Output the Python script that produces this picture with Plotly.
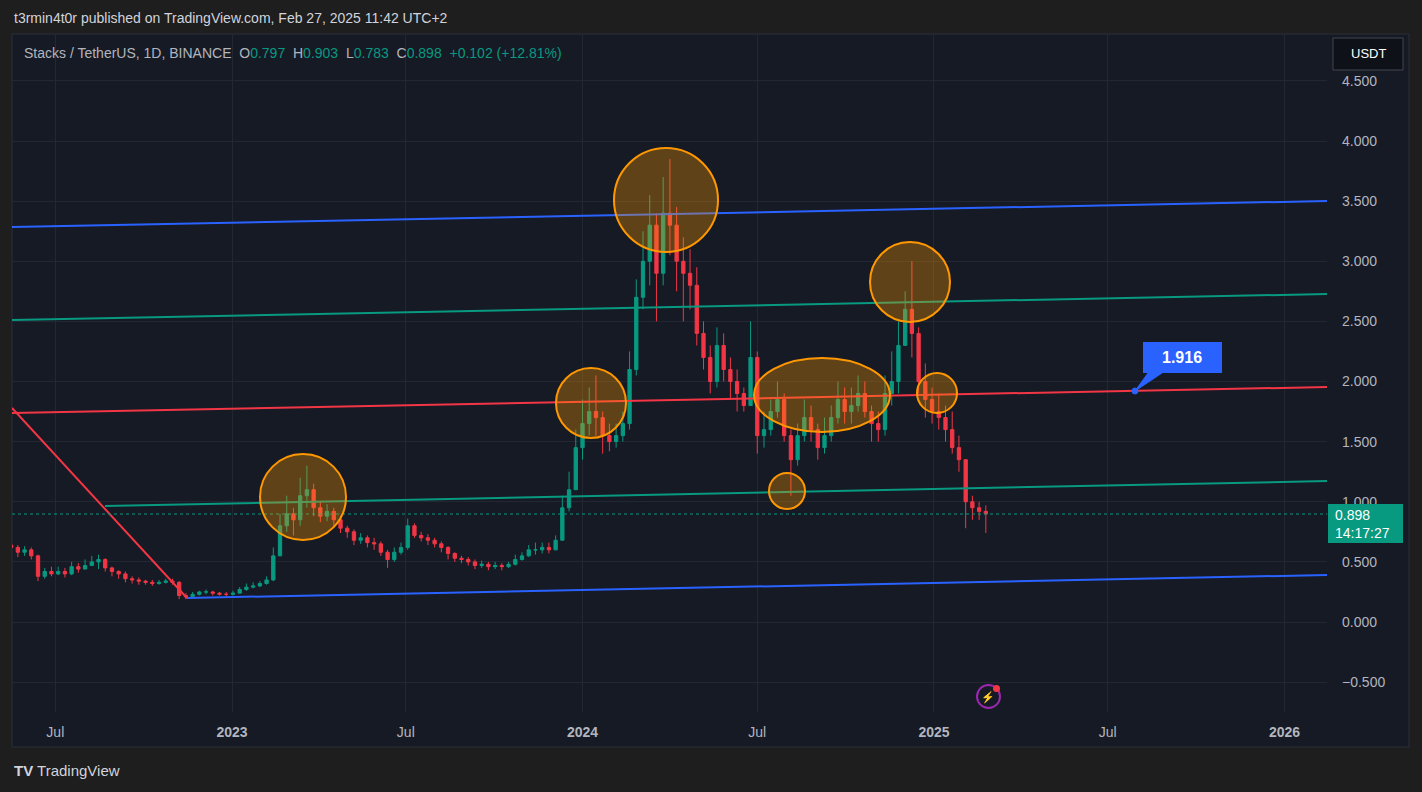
import pandas as pd
import plotly.graph_objects as go

# Weekly candles, weeks starting 2022-05-16
closes = [0.62,0.58,0.60,
 0.55,0.38,0.42,0.40, 0.42,0.40,0.46,0.44, 0.47,0.50,0.52,0.45,0.42, 0.40,0.36,0.35,0.34,
 0.33,0.32,0.33,0.34,0.33, 0.22,0.21,0.23,0.25, 0.25,0.24,0.23,0.23,
 0.24,0.27,0.29,0.30,0.32, 0.35,0.55,0.80,0.90, 0.85,1.05,1.10,0.95, 0.88,0.92,0.85,0.78,
 0.75,0.68,0.70,0.66,0.65, 0.58,0.52,0.58,0.62, 0.80,0.72,0.70,0.68,0.65, 0.62,0.57,0.53,0.52,
 0.50,0.47,0.48,0.46, 0.47,0.46,0.48,0.52,0.55, 0.60,0.60,0.62,0.60, 0.68,0.95,1.10,1.45,
 1.65,1.75,1.70,1.55,1.50, 1.55,1.65,2.10,2.70, 3.0,3.3,2.9,3.4, 3.3,3.0,2.9,2.8,2.4,
 2.2,2.0,2.3,2.1, 2.0,1.9,1.8,2.2, 1.55,1.6,1.75,1.85,1.55, 1.35,1.55,1.7,1.6,
 1.45,1.55,1.7,1.85,1.75, 1.8,1.9,1.75,1.65, 1.6,1.9,2.0,2.3, 2.6,2.4,2.0,1.85,1.75,
 1.7,1.6,1.45,1.35, 1.0,0.95,0.92,0.898]
highs = [.66,.64,.63,
 .62,.56,.45,.46, .46,.45,.50,.49, .52,.55,.56,.53,.46, .43,.42,.38,.37,
 .35,.35,.35,.36,.36, .34,.24,.25,.26, .27,.26,.25,.25,
 .26,.29,.32,.33,.34, .38,.62,.90,1.05, .95,1.20,1.30,1.15, 1.00,.98,.95,.88,
 .80,.77,.74,.72,.70, .67,.60,.62,.66, .86,.82,.75,.73,.70, .67,.63,.58,.55,
 .54,.52,.51,.50, .50,.49,.50,.56,.58, .64,.66,.66,.66, .72,1.05,1.25,1.60,
 1.85,1.95,2.05,1.75,1.65, 1.65,1.75,2.25,2.85, 3.25,3.55,3.40,3.70, 3.85,3.45,3.20,3.10,2.95,
 2.50,2.30,2.45,2.40, 2.20,2.10,1.95,2.50, 2.25,1.75,1.85,2.00,1.90, 1.60,1.65,1.85,1.80,
 1.65,1.70,1.80,2.00,1.95, 1.95,2.05,2.00,1.80, 1.75,2.05,2.25,2.50, 2.75,3.00,2.45,2.15,1.95,
 1.90,1.80,1.75,1.55, 1.35,1.05,1.00,0.97]
lows = [.56,.54,.55,
 .52,.34,.36,.38, .39,.37,.39,.41, .44,.47,.44,.42,.38, .36,.33,.32,.31,
 .31,.30,.31,.32,.31, .19,.19,.20,.22, .23,.22,.22,.21,
 .22,.24,.26,.28,.29, .31,.34,.55,.75, .72,.80,.95,.88, .83,.84,.80,.74,
 .70,.64,.65,.62,.60, .55,.45,.50,.56, .60,.70,.67,.64,.62, .58,.52,.50,.49,
 .47,.44,.45,.43, .44,.43,.45,.47,.51, .54,.56,.57,.57, .60,.68,.92,1.10,
 1.35,1.55,1.55,1.40,1.42, 1.45,1.50,1.60,2.05, 2.60,2.80,2.50,2.80, 3.05,2.75,2.50,2.60,2.30,
 2.10,1.90,1.95,2.00, 1.85,1.75,1.75,1.80, 1.40,1.45,1.55,1.70,1.50, 1.05,1.30,1.50,1.50,
 1.35,1.40,1.50,1.65,1.65, 1.65,1.75,1.70,1.50, 1.50,1.55,1.80,1.90, 2.30,2.20,1.90,1.70,1.65,
 1.60,1.50,1.40,1.25, 0.78,0.85,0.85,0.74]
opens = [0.64] + closes[:-1]
dates = pd.date_range("2022-05-16", periods=len(closes), freq="W-MON")

tick_vals = ["2022-07-01","2023-01-01","2023-07-01","2024-01-01","2024-07-01","2025-01-01","2025-07-01","2026-01-01"]
tick_text = ["Jul","<b>2023</b>","Jul","<b>2024</b>","Jul","<b>2025</b>","Jul","<b>2026</b>"]
y_ticks = [4.5,4.0,3.5,3.0,2.5,2.0,1.5,1.0,0.5,0.0,-0.5]
y_text = ["4.500","4.000","3.500","3.000","2.500","2.000","1.500","1.000","0.500","0.000","−0.500"]
last_price = 0.898
callout_price = 1.916

# pixel <-> data helpers (for drawings)
def px2d(x):
    return pd.Timestamp("2023-01-01") + pd.Timedelta(days=(x - 232) / 0.9603)
def py2p(y):
    return (622 - y) / 120.25
def pxp(x):
    return (x - 12) / 1315
def pyp(y):
    return (712 - y) / 677

UP, DN = "#089981", "#f23645"
fig = go.Figure(go.Candlestick(x=dates, open=opens, high=highs, low=lows, close=closes,
    increasing=dict(line=dict(color=UP, width=1), fillcolor=UP),
    decreasing=dict(line=dict(color=DN, width=1), fillcolor=DN),
    whiskerwidth=0, showlegend=False, hoverinfo="skip"))

shapes = []
shapes.append(dict(type="rect", xref="paper", yref="paper", x0=pxp(12), x1=pxp(1409), y0=pyp(747), y1=pyp(34),
                   fillcolor="#161a25", line=dict(color="#2a2e39", width=1), layer="below"))
def seg(x0, y0, x1, y1, color, width=2, dash="solid"):
    shapes.append(dict(type="line", x0=px2d(x0), y0=py2p(y0), x1=px2d(x1), y1=py2p(y1),
                       line=dict(color=color, width=width, dash=dash)))
seg(12, 227, 1327, 201, "#2962ff")
seg(12, 320, 1327, 294, "#089981")
seg(12, 413, 1327, 387, "#f23645")
seg(105, 506, 1327, 481, "#089981")
seg(187, 598, 1327, 575, "#2962ff")
seg(12, 408, 187, 598, "#f23645")
shapes.append(dict(type="line", x0=px2d(12), x1=px2d(1327), y0=last_price, y1=last_price,
                   line=dict(color=UP, width=1, dash="dot")))
def ell(cx, cy, rx, ry):
    shapes.append(dict(type="circle", x0=px2d(cx-rx), x1=px2d(cx+rx), y0=py2p(cy+ry), y1=py2p(cy-ry),
                       fillcolor="rgba(255,152,0,0.32)", line=dict(color="#ff9800", width=2)))
ell(303, 497, 43, 43); ell(591, 403, 35, 35); ell(666, 200, 52, 52); ell(822, 395, 68, 37)
ell(787, 491, 18, 18); ell(910, 282, 40, 40); ell(937, 393, 20, 20)
shapes.append(dict(type="rect", xref="paper", yref="paper", x0=pxp(1143), x1=pxp(1222), y0=pyp(373), y1=pyp(342),
                   fillcolor="#2962ff", line=dict(width=0)))
shapes.append(dict(type="path", xref="paper", yref="paper",
                   path=f"M {pxp(1135)} {pyp(391)} L {pxp(1148)} {pyp(373)} L {pxp(1162)} {pyp(373)} Z",
                   fillcolor="#2962ff", line=dict(color="#2962ff", width=1)))
shapes.append(dict(type="circle", x0=px2d(1132), x1=px2d(1138), y0=py2p(394), y1=py2p(388),
                   fillcolor="#2962ff", line=dict(color="#2962ff", width=1)))
shapes.append(dict(type="rect", xref="paper", yref="paper", x0=pxp(1328), x1=pxp(1403), y0=pyp(543), y1=pyp(504),
                   fillcolor=UP, line=dict(width=0)))
shapes.append(dict(type="rect", xref="paper", yref="paper", x0=pxp(1333), x1=pxp(1403), y0=pyp(70), y1=pyp(38),
                   fillcolor="#0e1118", line=dict(color="#434651", width=1)))
shapes.append(dict(type="circle", xref="paper", yref="paper", x0=pxp(977), x1=pxp(1000), y0=pyp(708), y1=pyp(685),
                   line=dict(color="#9c27b0", width=2)))
shapes.append(dict(type="circle", xref="paper", yref="paper", x0=pxp(993), x1=pxp(1000), y0=pyp(692), y1=pyp(685),
                   fillcolor="#f23645", line=dict(width=0)))

ann = []
def txt(x, y, t, size=13, color="#d1d4dc", anchor="left", yanchor="middle"):
    ann.append(dict(xref="paper", yref="paper", x=pxp(x), y=pyp(y), text=t, showarrow=False,
                    xanchor=anchor, yanchor=yanchor, font=dict(size=size, color=color)))
txt(12, 18, "t3rmin4t0r published on TradingView.com, Feb 27, 2025 11:42 UTC+2", 14)
g = "#089981"
hdr = ("Stacks / TetherUS, 1D, BINANCE  O<span style='color:%s'>0.797</span>  H<span style='color:%s'>0.903</span>"
       "  L<span style='color:%s'>0.783</span>  C<span style='color:%s'>0.898</span>  "
       "<span style='color:%s'>+0.102 (+12.81%%)</span>") % (g, g, g, g, g)
txt(22, 53, hdr, 14, "#b2b5be")
txt(1182, 357, f"<b>{callout_price:.3f}</b>", 16, "#ffffff", "center")
txt(1333, 515, f"{last_price:.3f}", 14, "#ffffff")
txt(1333, 533, "14:17:27", 14, "#ffffff")
txt(1368, 54, "USDT", 13, "#ffffff", "center")
txt(988, 697, "⚡", 11, "#9c27b0", "center")
txt(12, 770, "<b>TV</b> TradingView", 15, "#d1d4dc")
fig.update_layout(annotations=ann, shapes=shapes)

fig.update_layout(
    width=1422, height=792, margin=dict(l=12, r=95, t=35, b=80),
    paper_bgcolor="#1e1e1e", plot_bgcolor="#161a25",
    font=dict(family="Liberation Sans, Arial", color="#b2b5be"),
    xaxis=dict(type="date", range=[px2d(12), px2d(1327)], tickvals=tick_vals, ticktext=tick_text,
               showgrid=True, gridcolor="#232733", rangeslider=dict(visible=False), zeroline=False,
               tickfont=dict(size=14, color="#b2b5be"), ticks="", ticklabelstandoff=10,
               showline=False, fixedrange=True),
    yaxis=dict(range=[py2p(712), py2p(35)], side="right", tickvals=y_ticks, ticktext=y_text,
               showgrid=True, gridcolor="#232733", zeroline=False, ticks="", ticklabelstandoff=14,
               tickfont=dict(size=14, color="#b2b5be"), showline=False, fixedrange=True),
)
fig.write_html("out.html", config={"displayModeBar": False},
               post_script="document.body.style.margin='0';document.body.style.background='#1e1e1e';")
